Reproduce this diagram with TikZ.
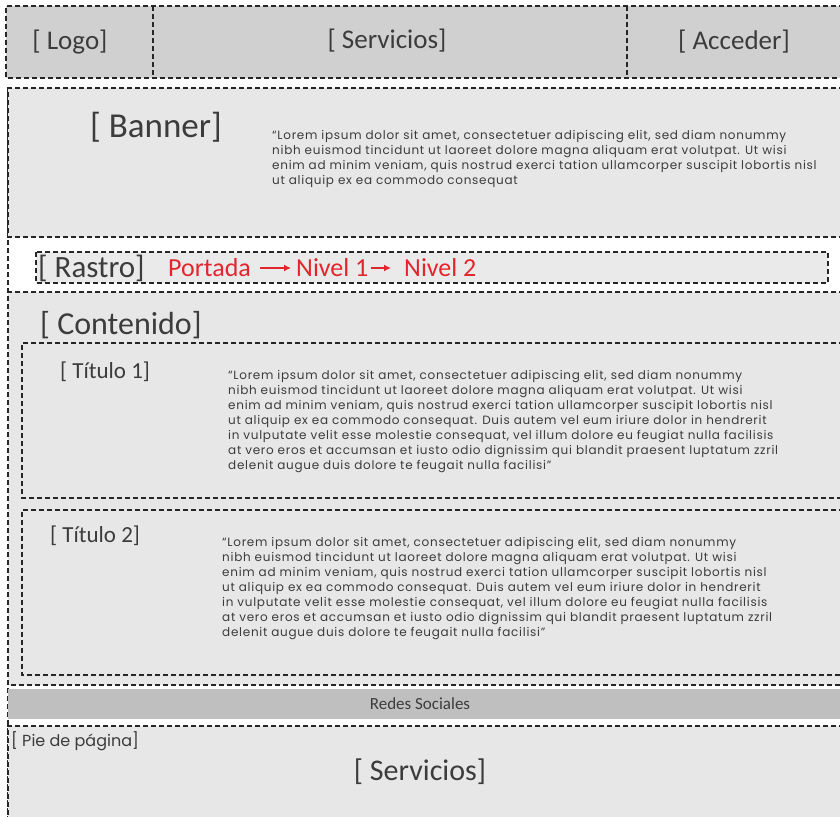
\documentclass[tikz,border=0pt]{standalone}
\usepackage{fontspec}
\setmainfont{Carlito}
\newfontfamily\geofont[LetterSpace=6]{Poppins}
\newfontfamily\piefont{Poppins}
\usetikzlibrary{arrows.meta}
\definecolor{hdrgray}{HTML}{D0D0D0}
\definecolor{boxgray}{HTML}{E7E7E7}
\definecolor{crumbgray}{HTML}{EAEAEA}
\definecolor{bargray}{HTML}{BFBFBF}
\definecolor{txtgray}{HTML}{3C3C3C}
\definecolor{crumbred}{HTML}{E3262E}
\begin{document}
\begin{tikzpicture}[x=1pt,y=-1pt,
  zone/.style={draw=black!85, dash pattern=on 5pt off 3pt, line width=1.1pt},
  lbl/.style={inner sep=0pt, text=txtgray},
  big/.style={lbl, font=\fontsize{27}{32}\selectfont},
  small/.style={lbl, font=\fontsize{23}{27}\selectfont},
  lorem/.style={lbl, align=left, anchor=north west, font=\geofont\fontsize{12}{15}\selectfont},
  crumb/.style={inner sep=1pt, text=crumbred, font=\fontsize{26}{30}\selectfont},
  crumbarrow/.style={-{Latex[length=7pt,width=7pt]}, crumbred, line width=1.5pt}]
\useasboundingbox (0,0) rectangle (840,816);
\fill[white] (0,0) rectangle (840,816);
\clip (0,0) rectangle (840,816);
% header
\fill[hdrgray] (6,6) rectangle (860,78);
\draw[zone] (860,6) -- (6,6) -- (6,78) -- (860,78);
\draw[zone] (153,6) -- (153,78);
\draw[zone] (627,6) -- (627,78);
\node[big] (logo) at (70,42) {[ Logo]};
\node[big] (serv) at (387,41) {[ Servicios]};
\node[big] (acc) at (734,42) {[ Acceder]};
% outer left edge
\draw[zone] (8,88) -- (8,830);
% banner
\fill[boxgray] (8,88) rectangle (860,237);
\draw[zone] (860,88) -- (8,88) -- (8,237) -- (860,237);
\node[lbl, font=\fontsize{35}{40}\selectfont, anchor=west] (banner) at (90,127) {[ Banner]};
\node[lorem] (bannertext) at (272,130) {“Lorem ipsum dolor sit amet, consectetuer adipiscing elit, sed diam nonummy\\
nibh euismod tincidunt ut laoreet dolore magna aliquam erat volutpat. Ut wisi\\
enim ad minim veniam, quis nostrud exerci tation ullamcorper suscipit lobortis nisl\\
ut aliquip ex ea commodo consequat};
% breadcrumb
\fill[crumbgray] (36,252) rectangle (828,283);
\draw[zone] (36,252) rectangle (828,283);
\node[lbl, font=\fontsize{31}{36}\selectfont, anchor=west] (rastro) at (38,268) {[ Rastro]};
\node[crumb, anchor=west] (portada) at (167,268) {Portada};
\node[crumb, anchor=west] (nivel1) at (295,268) {Nivel 1};
\node[crumb, anchor=west] (nivel2) at (403,268) {Nivel 2};
\draw[crumbarrow, shorten <=8pt, shorten >=4pt] (portada.east) -- (nivel1.west);
\draw[crumbarrow, shorten <=1pt, shorten >=12pt] (nivel1.east) -- (nivel2.west);
% content
\fill[boxgray] (8,292) rectangle (860,685);
\draw[zone] (860,292) -- (8,292) -- (8,685) -- (860,685);
\node[lbl, font=\fontsize{32}{36}\selectfont, anchor=west] (contenido) at (40,325) {[ Contenido]};
\draw[zone] (860,343) -- (22,343) -- (22,498) -- (860,498);
\node[small, anchor=west] (tit1) at (60,372) {[ Título 1]};
\node[lorem] (tit1text) at (228,370) {“Lorem ipsum dolor sit amet, consectetuer adipiscing elit, sed diam nonummy\\
nibh euismod tincidunt ut laoreet dolore magna aliquam erat volutpat. Ut wisi\\
enim ad minim veniam, quis nostrud exerci tation ullamcorper suscipit lobortis nisl\\
ut aliquip ex ea commodo consequat. Duis autem vel eum iriure dolor in hendrerit\\
in vulputate velit esse molestie consequat, vel illum dolore eu feugiat nulla facilisis\\
at vero eros et accumsan et iusto odio dignissim qui blandit praesent luptatum zzril\\
delenit augue duis dolore te feugait nulla facilisi”};
\draw[zone] (860,510) -- (22,510) -- (22,675) -- (860,675);
\node[small, anchor=west] (tit2) at (50,536) {[ Título 2]};
\node[lorem] (tit2text) at (222,537) {“Lorem ipsum dolor sit amet, consectetuer adipiscing elit, sed diam nonummy\\
nibh euismod tincidunt ut laoreet dolore magna aliquam erat volutpat. Ut wisi\\
enim ad minim veniam, quis nostrud exerci tation ullamcorper suscipit lobortis nisl\\
ut aliquip ex ea commodo consequat. Duis autem vel eum iriure dolor in hendrerit\\
in vulputate velit esse molestie consequat, vel illum dolore eu feugiat nulla facilisis\\
at vero eros et accumsan et iusto odio dignissim qui blandit praesent luptatum zzril\\
delenit augue duis dolore te feugait nulla facilisi”};
% social bar
\fill[bargray] (8,689) rectangle (860,719);
\node[lbl, font=\fontsize{17}{20}\selectfont] (redes) at (420,704) {Redes Sociales};
% footer
\fill[boxgray] (8,726) rectangle (860,830);
\draw[zone] (860,726) -- (8,726) -- (8,830);
\node[lbl, font=\piefont\fontsize{16}{19}\selectfont, anchor=west] (pie) at (11,741) {[ Pie de página]};
\node[lbl, font=\fontsize{30}{34}\selectfont] (servfoot) at (420,772) {[ Servicios]};
\end{tikzpicture}
\end{document}
